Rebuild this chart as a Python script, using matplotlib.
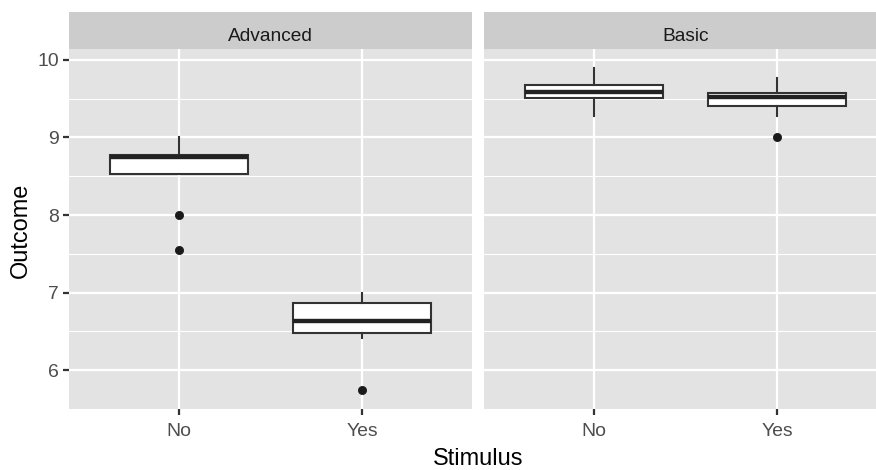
import matplotlib.pyplot as plt

# font close to the Arial used by R on Windows
plt.rcParams['font.family'] = ['Liberation Sans', 'DejaVu Sans']

W, H = 876, 470

facets = ["Advanced", "Basic"]
stimulus = ["No", "Yes"]

# box statistics, one entry per stimulus level
adv_whislo = [8.53, 6.41]
adv_q1 = [8.53, 6.475]
adv_med = [8.75, 6.63]
adv_q3 = [8.77, 6.87]
adv_whishi = [9.0, 7.0]
adv_fliers = [[8.0, 7.55], [5.75]]

bas_whislo = [9.28, 9.28]
bas_q1 = [9.51, 9.40]
bas_med = [9.58, 9.52]
bas_q3 = [9.68, 9.57]
bas_whishi = [9.90, 9.76]
bas_fliers = [[], [9.0]]

y_major = [6, 7, 8, 9, 10]
y_minor = [5.5, 6.5, 7.5, 8.5, 9.5]

PANEL_BG = '#E3E3E3'
STRIP_BG = '#CCCCCC'
DARK = '#333333'


def px_rect(x0, y0, x1, y1):
    return [x0 / W, 1 - y1 / H, (x1 - x0) / W, (y1 - y0) / H]


def make_stats(whislo, q1, med, q3, whishi, fliers):
    out = []
    for i in range(len(med)):
        out.append(dict(whislo=whislo[i], q1=q1[i], med=med[i], q3=q3[i],
                        whishi=whishi[i], fliers=fliers[i]))
    return out


all_stats = [
    make_stats(adv_whislo, adv_q1, adv_med, adv_q3, adv_whishi, adv_fliers),
    make_stats(bas_whislo, bas_q1, bas_med, bas_q3, bas_whishi, bas_fliers),
]

fig = plt.figure(figsize=(W / 150, H / 150), dpi=150)

panel_px = [(69, 49, 472, 409), (484, 49, 887, 409)]

for k, name in enumerate(facets):
    x0, y0, x1, y1 = panel_px[k]
    ax = fig.add_axes(px_rect(x0, y0, x1, y1))
    ax.set_facecolor(PANEL_BG)
    for s in ax.spines.values():
        s.set_visible(False)
    ax.set_axisbelow(True)

    ax.bxp(all_stats[k], positions=[1, 2], widths=0.75, patch_artist=True,
           showcaps=False,
           boxprops=dict(facecolor='white', edgecolor=DARK, linewidth=1.0),
           medianprops=dict(color='#222222', linewidth=2.1, solid_capstyle='butt'),
           whiskerprops=dict(color=DARK, linewidth=1.0),
           flierprops=dict(marker='o', markerfacecolor='#1A1A1A',
                           markeredgecolor='#1A1A1A', markersize=3.9,
                           markeredgewidth=0.4))

    ax.set_xlim(0.4, 2.6)
    ax.set_ylim(5.54, 10.14)
    ax.set_xticks([1, 2])
    ax.set_xticklabels(stimulus)
    ax.set_yticks(y_major)
    ax.set_yticks(y_minor, minor=True)
    ax.grid(which='major', color='white', linewidth=1.07)
    ax.grid(which='minor', axis='y', color='white', linewidth=0.53)
    ax.tick_params(which='minor', length=0)
    ax.tick_params(which='major', length=2.75, width=1.07, color=DARK,
                   labelcolor='#4D4D4D', labelsize=9.3, pad=2.2)
    ax.tick_params(axis='x', pad=4.0)
    if k > 0:
        ax.tick_params(axis='y', left=False, labelleft=False)

    # facet strip on top of the panel
    sx = fig.add_axes(px_rect(x0, 12, x1, y0))
    sx.set_facecolor(STRIP_BG)
    sx.set_xticks([])
    sx.set_yticks([])
    for s in sx.spines.values():
        s.set_visible(False)
    sx.text(0.5, 0.225, name, transform=sx.transAxes, ha='center',
            va='baseline', fontsize=9.2, color='#1A1A1A')

fig.text(478 / W, 5 / H, "Stimulus", ha='center', va='baseline', fontsize=11.3)
fig.text(21 / W, 0.5096, "Outcome", ha='center', va='center', rotation=90,
         fontsize=11.3)

fig.savefig('out.png', dpi=150)
